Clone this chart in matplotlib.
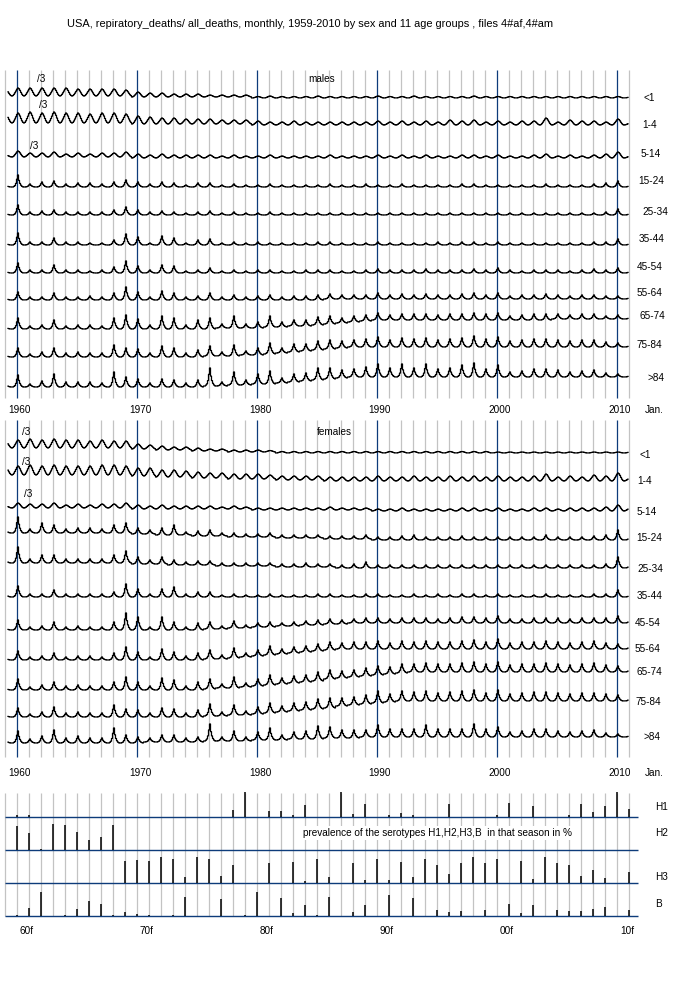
import matplotlib.pyplot as plt
import numpy as np

plt.rcParams['font.family'] = ['Liberation Sans', 'DejaVu Sans']

AGE_GROUPS = ['<1', '1-4', '5-14', '15-24', '25-34', '35-44',
              '45-54', '55-64', '65-74', '75-84', '>84']
SEASONS = list(range(1959, 2012))   # flu season ending in that year

# shape of one season, Aug .. Jul
SPIKE_SHAPE = [0, 0, 0.05, 0.12, 0.3, 0.65, 1.0, 0.55, 0.3, 0.15, 0.06, 0.01]
WAVE_SHAPE = [0, 0.06, 0.2, 0.4, 0.62, 0.85, 1.0, 0.9, 0.7, 0.45, 0.22, 0.07]

# ---- males: seasonal peak height and level drift, seasons 1959..2011
m_pk_lt1 = [6, 8, 8, 8, 8, 8, 7, 7, 7, 7, 6,
            5, 4, 4, 3, 3, 3, 2, 2, 2, 2,
            1.5, 2, 1.5, 1.5, 1.5, 2, 1.5, 1.5, 1.5, 1.5,
            2, 1.5, 1.5, 2, 1.5, 1.5, 1.5, 1.5, 2, 1.5,
            1.5, 1.5, 1.5, 1.5, 1.5, 1.5, 1.5, 1.5, 1.5, 1.5, 1.5, 1]
m_pk_1_4 = [8, 10, 11, 10, 11, 10, 10, 9, 10, 10, 9,
            8, 7, 6, 6, 5, 5, 5, 4, 4, 4,
            4, 3, 3, 4, 3, 3, 3, 3, 3, 3,
            4, 3, 4, 3, 4, 3, 5, 4, 5, 3,
            4, 3, 4, 4, 7, 3, 5, 4, 4, 3, 6, 2]
m_pk_5_14 = [2, 6, 4, 4, 5, 3, 4, 3, 4, 4, 5,
             4, 3, 4, 3, 3, 3, 3, 2, 3, 2,
             2, 3, 2, 2, 2, 2, 3, 2, 2, 2,
             3, 2, 3, 2, 3, 2, 2, 3, 3, 2,
             3, 2, 2, 3, 4, 2, 3, 2, 3, 4, 6, 2]
m_pk_15_24 = [2, 12, 3, 5, 6, 3, 4, 4, 3, 5, 7,
              5, 3, 5, 4, 2, 4, 4, 2, 3, 2,
              2, 3, 2, 2, 2, 2, 3, 2, 2, 3,
              2, 2, 3, 2, 2, 2, 2, 3, 3, 2,
              2, 2, 2, 2, 3, 2, 2, 2, 3, 4, 6, 2]
m_pk_25_34 = [2, 10, 3, 4, 5, 3, 3, 3, 3, 5, 8,
              5, 3, 4, 3, 2, 3, 4, 2, 3, 2,
              2, 3, 2, 2, 2, 2, 2, 2, 2, 2,
              2, 2, 2, 2, 2, 2, 2, 2, 2, 2,
              2, 2, 2, 2, 2, 2, 2, 2, 2, 3, 6, 2]
m_pk_35_44 = [2, 12, 3, 3, 7, 3, 3, 2, 2, 5, 11,
              8, 2, 9, 7, 2, 5, 6, 2, 3, 2,
              3, 2, 2, 2, 2, 3, 3, 2, 2, 2,
              3, 2, 2, 2, 2, 3, 2, 3, 3, 2,
              3, 2, 2, 2, 2, 2, 2, 2, 3, 3, 6, 2]
m_pk_45_54 = [2, 10, 3, 3, 8, 3, 3, 2, 3, 6, 12,
              7, 3, 8, 7, 2, 3, 5, 2, 3, 2,
              3, 3, 2, 2, 3, 3, 3, 2, 2, 3,
              4, 3, 3, 3, 4, 3, 3, 3, 4, 3,
              5, 3, 2, 3, 3, 3, 2, 3, 4, 3, 5, 2]
m_pk_55_64 = [2, 8, 3, 3, 7, 3, 3, 4, 3, 7, 13,
              8, 3, 9, 7, 3, 4, 7, 3, 5, 3,
              4, 5, 3, 4, 4, 5, 5, 4, 4, 4,
              6, 4, 5, 4, 5, 4, 4, 5, 6, 4,
              6, 3, 4, 4, 5, 4, 3, 4, 4, 3, 3, 2]
m_pk_65_74 = [2, 11, 3, 4, 9, 3, 4, 4, 3, 11, 14,
              10, 4, 13, 11, 4, 9, 11, 4, 12, 4,
              6, 11, 5, 6, 6, 8, 8, 5, 6, 6,
              7, 5, 6, 6, 6, 5, 6, 6, 7, 6,
              7, 4, 5, 6, 6, 5, 4, 5, 5, 3, 4, 2]
m_pk_75_84 = [2, 9, 3, 5, 9, 4, 5, 4, 4, 12, 9,
              8, 4, 11, 9, 4, 7, 10, 4, 11, 4,
              7, 11, 5, 8, 7, 9, 9, 7, 7, 8,
              10, 7, 9, 8, 9, 7, 8, 9, 11, 8,
              10, 6, 7, 8, 8, 7, 6, 7, 7, 5, 4, 2]
m_pk_85 = [3, 12, 3, 6, 13, 5, 5, 5, 4, 15, 10,
           8, 4, 8, 7, 4, 7, 18, 4, 13, 5,
           10, 13, 5, 8, 8, 12, 11, 8, 8, 10,
           13, 9, 13, 9, 13, 8, 9, 12, 14, 8,
           12, 5, 6, 8, 8, 7, 5, 6, 7, 4, 3, 2]

m_lv_lt1 = [2, 2, 2, 2, 2, 2, 2, 2, 2, 2, 2,
            1, 1, 1, 1, 1, 1, 1, 1, 1, 1] + [0] * 32
m_lv_1_4 = [2, 2, 2, 2, 2, 2, 2, 2, 2, 2, 2,
            1, 1, 1, 1, 1, 1, 1, 1, 1, 1] + [0] * 32
m_lv_5_14 = [1] * 11 + [0] * 42
m_lv_55_64 = [0] * 27 + [1] * 26
m_lv_65_74 = [0, 0, 0, 0, 0, 0, 0, 0, 0, 0, 0,
              0, 0, 0, 0, 0, 0, 0, 1, 1, 1,
              1, 2, 2, 3, 3, 4, 5, 6, 7, 8,
              9, 9, 9, 9, 9, 9, 9, 9, 9, 9,
              9, 9, 9, 9, 9, 10, 10, 10, 10, 10, 10, 10]
m_lv_75_84 = [0, 0, 0, 0, 0, 0, 0, 0, 0, 0, 0,
              0, 0, 0, 0, 0, 0, 1, 1, 1, 2,
              2, 3, 4, 5, 6, 7, 8, 9, 10, 10] + [10] * 22
m_lv_85 = [0, 0, 0, 0, 0, 0, 0, 0, 0, 0, 0,
           0, 0, 0, 0, 0, 0, 1, 1, 2, 2,
           3, 3, 4, 5, 6, 7, 8, 9, 10, 10] + [10] * 22
flat = [0] * 53

# ---- females
f_pk_lt1 = [6, 8, 9, 8, 9, 8, 8, 7, 8, 7, 7,
            5, 4, 4, 3, 3, 3, 2, 2, 2, 2,
            2, 1.5, 1.5, 1.5, 1.5, 1.5, 1.5, 1.5, 1.5, 1.5,
            1.5, 1.5, 1.5, 1.5, 1.5, 1.5, 1.5, 1.5, 1.5, 1.5,
            1, 1, 1, 1, 1, 1, 1, 1, 1, 1, 1, 1]
f_pk_1_4 = [7, 9, 10, 9, 10, 9, 9, 9, 10, 10, 9,
            8, 8, 7, 7, 6, 6, 5, 5, 5, 5,
            5, 4, 4, 4, 4, 4, 4, 4, 4, 4,
            5, 4, 4, 5, 4, 4, 5, 4, 5, 4,
            5, 4, 4, 5, 7, 4, 5, 4, 6, 5, 8, 3]
f_pk_5_14 = [2, 5, 4, 4, 5, 3, 4, 3, 4, 4, 5,
             4, 3, 4, 3, 3, 3, 3, 2, 3, 2,
             2, 2, 2, 2, 2, 2, 3, 2, 2, 2,
             2, 2, 3, 2, 2, 2, 2, 3, 3, 2,
             3, 2, 2, 3, 3, 2, 3, 3, 3, 4, 6, 3]
f_pk_15_24 = [3, 16, 4, 10, 8, 4, 5, 5, 4, 8, 10,
              6, 4, 7, 10, 3, 5, 6, 3, 4, 3,
              3, 4, 3, 3, 3, 3, 3, 3, 3, 4,
              3, 3, 4, 5, 3, 3, 3, 4, 3, 3,
              3, 3, 3, 3, 5, 3, 3, 3, 4, 5, 10, 3]
f_pk_25_34 = [3, 16, 4, 8, 8, 4, 4, 4, 4, 8, 12,
              7, 4, 7, 5, 3, 4, 4, 3, 3, 3,
              3, 3, 3, 3, 4, 3, 3, 3, 4, 6,
              3, 3, 3, 3, 3, 3, 3, 3, 3, 3,
              3, 3, 3, 3, 3, 3, 3, 3, 3, 4, 11, 3]
f_pk_35_44 = [3, 11, 3, 3, 7, 3, 3, 3, 3, 5, 13,
              8, 3, 8, 10, 3, 5, 5, 2, 3, 2,
              2, 3, 2, 2, 2, 3, 3, 2, 2, 3,
              3, 2, 2, 3, 2, 3, 2, 3, 3, 2,
              3, 2, 2, 2, 3, 2, 2, 2, 3, 3, 7, 2]
f_pk_45_54 = [2, 10, 3, 4, 8, 3, 4, 3, 3, 8, 17,
              13, 3, 13, 8, 3, 7, 7, 3, 7, 3,
              4, 5, 3, 4, 4, 5, 5, 4, 4, 5,
              5, 4, 5, 5, 5, 4, 5, 6, 6, 5,
              7, 4, 4, 5, 5, 5, 4, 5, 5, 5, 7, 3]
f_pk_55_64 = [2, 9, 3, 4, 7, 3, 4, 4, 3, 7, 13,
              8, 3, 11, 8, 4, 7, 9, 4, 10, 4,
              6, 9, 5, 6, 6, 7, 8, 6, 7, 7,
              8, 6, 8, 7, 8, 7, 7, 8, 9, 7,
              10, 6, 7, 7, 8, 7, 6, 7, 8, 6, 5, 3]
f_pk_65_74 = [2, 11, 3, 5, 8, 4, 5, 4, 4, 8, 13,
              8, 4, 12, 10, 4, 8, 10, 4, 11, 4,
              7, 10, 6, 7, 7, 9, 9, 7, 7, 8,
              9, 7, 9, 8, 9, 8, 8, 9, 10, 8,
              10, 7, 8, 8, 9, 8, 7, 8, 9, 7, 6, 3]
f_pk_75_84 = [2, 9, 3, 5, 10, 4, 5, 4, 4, 12, 8,
              7, 4, 9, 8, 4, 7, 12, 4, 10, 4,
              7, 10, 6, 8, 8, 10, 10, 8, 8, 9,
              12, 8, 10, 9, 10, 8, 9, 10, 11, 8,
              11, 7, 8, 9, 9, 8, 7, 8, 8, 7, 6, 3]
f_pk_85 = [3, 12, 4, 7, 13, 5, 7, 5, 5, 15, 8,
           6, 4, 7, 7, 4, 5, 17, 4, 10, 4,
           8, 12, 5, 7, 8, 13, 11, 8, 8, 7,
           12, 8, 8, 8, 12, 8, 8, 8, 13, 8,
           10, 5, 6, 8, 8, 6, 5, 6, 7, 4, 3, 2]

f_lv_lt1 = [5, 5, 5, 5, 5, 5, 5, 5, 5, 5, 5,
            4, 4, 3, 3, 3, 2, 2, 2, 1, 1,
            1, 1] + [0] * 30
f_lv_1_4 = [6, 6, 6, 6, 6, 6, 6, 6, 6, 6, 6,
            5, 5, 4, 4, 4, 3, 3, 3, 2, 2,
            2, 2, 1, 1, 1, 1] + [0] * 26
f_lv_5_14 = [3] * 11 + [2] * 10 + [1] * 10 + [0] * 22
f_lv_15_24 = [7, 7, 7, 7, 7, 7, 7, 7, 7, 7, 7,
              6, 6, 5, 5, 5, 4, 4, 4, 3, 3,
              3, 3, 2, 2, 2, 2, 1, 1, 1, 1] + [0] * 22
f_lv_25_34 = [5, 5, 5, 5, 5, 5, 5, 5, 5, 5, 5,
              4, 4, 4, 3, 3, 3, 3, 2, 2, 2,
              2, 2, 1, 1, 1, 1, 1, 0, 0, 0] + [0] * 22
f_lv_45_54 = [0] * 17 + [1, 1, 2, 2,
                         3, 3, 4, 4, 5, 5, 6, 6, 7, 7] + [7] * 22
f_lv_55_64 = [0] * 17 + [1, 1, 2, 3,
                         4, 5, 6, 7, 8, 9, 10, 11, 11, 11] + [11] * 22
f_lv_65_74 = [0] * 17 + [1, 2, 2, 3,
                         4, 5, 6, 7, 8, 9, 11, 12, 13, 14,
                         15, 16, 17, 18, 18, 18, 18, 18, 18, 18] + [18] * 12
f_lv_75_84 = [0] * 17 + [1, 1, 2, 2,
                         3, 4, 5, 6, 7, 8, 9, 11, 12, 13,
                         14, 15, 16, 16, 16, 16, 16, 16, 16, 16] + [16] * 12
f_lv_85 = [0] * 12 + [1, 1, 1, 1, 1, 2, 2, 2, 2,
                      3, 3, 3, 4, 4, 4, 5, 5, 5, 6] + [6] * 22

male_peaks = [m_pk_lt1, m_pk_1_4, m_pk_5_14, m_pk_15_24, m_pk_25_34, m_pk_35_44,
              m_pk_45_54, m_pk_55_64, m_pk_65_74, m_pk_75_84, m_pk_85]
male_levels = [m_lv_lt1, m_lv_1_4, m_lv_5_14, flat, flat, flat,
               flat, m_lv_55_64, m_lv_65_74, m_lv_75_84, m_lv_85]
female_peaks = [f_pk_lt1, f_pk_1_4, f_pk_5_14, f_pk_15_24, f_pk_25_34, f_pk_35_44,
                f_pk_45_54, f_pk_55_64, f_pk_65_74, f_pk_75_84, f_pk_85]
female_levels = [f_lv_lt1, f_lv_1_4, f_lv_5_14, f_lv_15_24, f_lv_25_34, flat,
                 f_lv_45_54, f_lv_55_64, f_lv_65_74, f_lv_75_84, f_lv_85]
shapes = [WAVE_SHAPE] * 3 + [SPIKE_SHAPE] * 8

# ---- serotype prevalence per season, %
h1_years = [1960, 1961, 1978, 1979, 1981, 1982, 1983, 1984, 1987, 1988, 1989, 1991,
            1992, 1993, 1996, 2000, 2001, 2003, 2006, 2007, 2008, 2009, 2010, 2011]
h1_pct = [6, 8, 27, 96, 23, 23, 8, 46, 96, 10, 50, 6,
          15, 6, 50, 6, 54, 42, 6, 50, 19, 42, 96, 31]
h2_years = [1960, 1961, 1962, 1963, 1964, 1965, 1966, 1967, 1968]
h2_pct = [91, 65, 5, 100, 95, 69, 40, 49, 95]
h3_years = [1969, 1970, 1971, 1972, 1973, 1974, 1975, 1976, 1977, 1978, 1981, 1983,
            1984, 1985, 1986, 1988, 1989, 1990, 1991, 1992, 1993, 1994, 1995, 1996,
            1997, 1998, 1999, 2000, 2002, 2003, 2004, 2005, 2006, 2007, 2008, 2009, 2011]
h3_pct = [83, 87, 83, 99, 93, 24, 99, 93, 28, 68, 76, 80,
          6, 93, 24, 76, 10, 93, 10, 80, 24, 93, 70, 36,
          76, 99, 76, 93, 83, 17, 99, 76, 70, 28, 51, 19, 43]
b_years = [1960, 1961, 1962, 1964, 1965, 1966, 1967, 1968, 1969, 1970, 1971, 1973,
           1974, 1977, 1979, 1980, 1982, 1983, 1984, 1985, 1986, 1988, 1989, 1991,
           1993, 1995, 1996, 1997, 1999, 2001, 2002, 2003, 2005, 2006, 2007, 2008,
           2009, 2011]
b_pct = [5, 31, 92, 4, 28, 58, 46, 4, 15, 8, 4, 4,
         73, 67, 4, 92, 70, 12, 42, 4, 73, 15, 42, 81,
         70, 23, 15, 19, 23, 46, 12, 42, 23, 19, 19, 27,
         35, 23]
sero_names = ['H1', 'H2', 'H3', 'B']
sero_years = [h1_years, h2_years, h3_years, b_years]
sero_pct = [h1_pct, h2_pct, h3_pct, b_pct]

# ---- layout (pixel rows of a 700x1000 canvas)
male_base = [98, 125, 158, 187, 215, 245, 273, 300, 329, 357, 387]
male_label_y = [98, 125, 154, 181, 212, 239, 267, 293, 316, 345, 378]
male_label_x = [643, 642, 641, 638, 642, 639, 637, 637, 639, 637, 647]
female_base = [453, 481, 511, 540, 568, 597, 630, 660, 690, 717, 743]
female_label_y = [455, 481, 512, 538, 569, 596, 623, 649, 672, 702, 737]
female_label_x = [640, 637, 637, 636, 637, 637, 635, 635, 636, 636, 643]
sero_base = [817, 850, 883, 916]
sero_label_y = [807, 833, 877, 904]
BAR_PX_PER_PCT = 0.26

GRAY = '#c3c3c3'
BLUE = '#0d3b7a'
FS = 7.2

fig = plt.figure(figsize=(7, 10), dpi=100)
ax = fig.add_axes([0, 0, 1, 1])
X0 = 1960 - 17 / 12
ax.set_xlim(X0, X0 + 700 / 12)
ax.set_ylim(1000, 0)
ax.axis('off')


def px(x):
    return X0 + x / 12


def monthly(peaks, levels, shape):
    t, v = [], []
    for s, pk, lv in zip(SEASONS, peaks, levels):
        for k in range(12):
            month = (7 + k) % 12
            year = s - 1 if k < 5 else s
            t.append(year + month / 12)
            v.append(lv + pk * shape[k])
    t = np.array(t)
    v = np.array(v)
    keep = (t >= 1959.25) & (t <= 2010.95)
    return t[keep], v[keep]


# year grid
for yr in range(1959, 2012):
    c = BLUE if yr % 10 == 0 else GRAY
    ax.vlines(yr, 70, 398, color=c, lw=0.9, zorder=1)
    ax.vlines(yr, 420, 757, color=c, lw=0.9, zorder=1)
    ax.vlines(yr, 793, 916, color=GRAY, lw=0.9, zorder=1)

# traces
for peaks, levels, base, shape in zip(male_peaks, male_levels, male_base, shapes):
    t, v = monthly(peaks, levels, shape)
    ax.plot(t, base - v, color='black', lw=0.9, drawstyle='steps-mid', zorder=3)
for peaks, levels, base, shape in zip(female_peaks, female_levels, female_base, shapes):
    t, v = monthly(peaks, levels, shape)
    ax.plot(t, base - v, color='black', lw=0.9, drawstyle='steps-mid', zorder=3)

for name, x, y in zip(AGE_GROUPS, male_label_x, male_label_y):
    ax.text(px(x), y, name, fontsize=FS, va='center', ha='left')
for name, x, y in zip(AGE_GROUPS, female_label_x, female_label_y):
    ax.text(px(x), y, name, fontsize=FS, va='center', ha='left')

for x, y in [(41, 79), (43, 105), (34, 146), (26, 432), (26, 462), (28, 494)]:
    ax.text(px(x), y, '/3', fontsize=FS, va='center', ha='center')

ax.text(px(322), 79, 'males', fontsize=FS, va='center', ha='center')
ax.text(px(334), 432, 'females', fontsize=FS, va='center', ha='center')

for y in [410, 773]:
    for yr in range(1960, 2011, 10):
        ax.text(yr + 0.25, y, str(yr), fontsize=FS, va='center', ha='center')
    ax.text(px(645), y, 'Jan.', fontsize=FS, va='center', ha='left')

# serotype panel
ax.hlines(sero_base, 1959, px(638), color=BLUE, lw=1.0, zorder=2)
for name, years, pct, base, ly in zip(sero_names, sero_years, sero_pct,
                                      sero_base, sero_label_y):
    heights = np.array(pct) * BAR_PX_PER_PCT
    ax.vlines(years, base, base - heights, color='black', lw=1.1, zorder=3)
    ax.text(px(655), ly, name, fontsize=FS, va='center', ha='left')

ax.text(px(303), 833, 'prevalence of the serotypes H1,H2,H3,B  in that season in %',
        fontsize=FS, va='center', ha='left', zorder=4,
        bbox=dict(facecolor='white', edgecolor='none', pad=1.5))

for yr, lab in zip(range(1960, 2011, 10), ['60f', '70f', '80f', '90f', '00f', '10f']):
    ax.text(yr + 10 / 12, 931, lab, fontsize=FS, va='center', ha='center')

ax.text(px(67), 24, 'USA, repiratory_deaths/ all_deaths, monthly, 1959-2010 by sex '
        'and 11 age groups , files 4#af,4#am', fontsize=7.9, va='center', ha='left')

fig.savefig('out.png', dpi=100, facecolor='white')
